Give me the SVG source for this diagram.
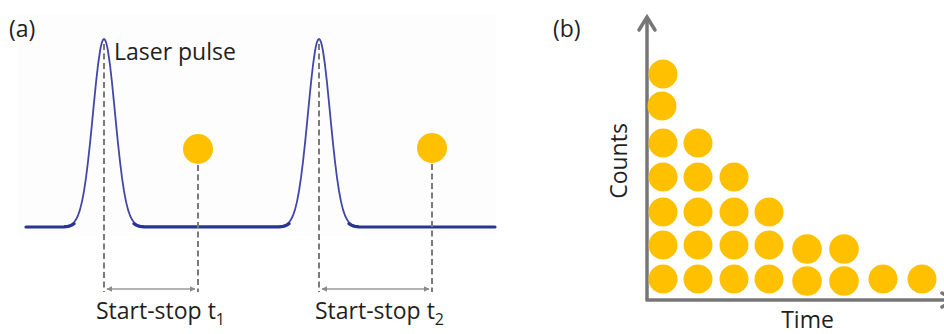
<svg xmlns="http://www.w3.org/2000/svg" xmlns:xlink="http://www.w3.org/1999/xlink" width="944" height="334" viewBox="0 0 944 334">
<style>
  text { font-family: "Open Sans", "Liberation Sans", sans-serif; fill: #1f1f1f; }
  .lbl { font-size: 23px; }
  .sub { font-size: 16px; }
  .dot { fill: #FFC000; }
  .dash { stroke: #7a7a7a; stroke-width: 2; stroke-dasharray: 6 3.5; fill: none; }
  .pulse { fill: none; stroke: #4347a8; stroke-width: 1.8; stroke-linejoin: round; }
  .base { fill: none; stroke: #283593; stroke-width: 3.2; stroke-linecap: round; stroke-linejoin: round; }
  .meas { stroke: #9a9a9a; stroke-width: 1.6; fill: none; marker-start: url(#ah); marker-end: url(#ah); }
  .axis { stroke: #767676; stroke-width: 3.5; fill: none; }
  .chev { stroke: #767676; stroke-width: 3.5; fill: none; stroke-linecap: round; stroke-linejoin: miter; }
</style>
<defs>
  <marker id="ah" viewBox="0 0 10 10" refX="9" refY="5" markerWidth="6" markerHeight="6" orient="auto-start-reverse" markerUnits="userSpaceOnUse">
    <path d="M0,0 L10,5 L0,10 z" fill="#8a8a8a"/>
  </marker>
  <path id="pulse" class="pulse" d="M-40,226.7 L-36,226.1 L-34,225.4 L-32,224.3 L-30,222.4 L-28,219.6 L-26,215.5 L-24,209.6 L-22,201.6 L-20,191 L-18,177.7 L-16,161.7 L-14,143.4 L-12,123.3 L-10,102.6 L-8,82.7 L-6,65 L-4,51 L-3,45.9 L-2,42.1 L-1,39.8 L0,39 L1,39.8 L2,42.1 L3,45.9 L4,51 L6,65 L8,82.7 L10,102.6 L12,123.3 L14,143.4 L16,161.7 L18,177.7 L20,191 L22,201.6 L24,209.6 L26,215.5 L28,219.6 L30,222.4 L32,224.3 L34,225.4 L36,226.1 L40,226.7"/>
</defs>

<g id="panel-a">
  <rect x="18" y="14" width="478" height="222" fill="#fdfdfd"/>
  <g id="signal">
    <use xlink:href="#pulse" x="104"/>
    <use xlink:href="#pulse" x="319"/>
    <path class="base" d="M26,227 L64,226.8 L68,226.4 L70,225.9 L72,225 L74,223.6 M134,223.6 L136,225 L138,225.9 L140,226.4 L144,226.8 L279,226.8 L283,226.4 L285,225.9 L287,225 L289,223.6 M349,223.6 L351,225 L353,225.9 L355,226.4 L359,226.8 L495,227"/>
  </g>
  <g id="guides">
    <line class="dash" x1="104" y1="44" x2="104" y2="292"/>
    <line class="dash" x1="198" y1="165" x2="198" y2="292"/>
    <line class="dash" x1="319" y1="44" x2="319" y2="292"/>
    <line class="dash" x1="432" y1="164" x2="432" y2="292"/>
    <line class="meas" x1="107" y1="289" x2="195" y2="289"/>
    <line class="meas" x1="322" y1="289" x2="429" y2="289"/>
  </g>
  <g id="photon1"><circle class="dot" cx="198" cy="149" r="15"/></g>
  <g id="photon2"><circle class="dot" cx="432" cy="148" r="15"/></g>
  <text class="lbl" x="9" y="37">(a)</text>
  <text class="lbl" x="114" y="60">Laser pulse</text>
  <text class="lbl" x="96" y="319">Start-stop t<tspan class="sub" dy="6">1</tspan></text>
  <text class="lbl" x="315" y="319">Start-stop t<tspan class="sub" dy="6">2</tspan></text>
</g>

<g id="panel-b">
  <text class="lbl" x="553" y="37">(b)</text>
  <g id="axes">
    <line class="axis" x1="647" y1="18" x2="647" y2="300"/>
    <line class="axis" x1="645.5" y1="300" x2="946" y2="300"/>
    <path class="chev" d="M639,30 L647,17 L655,30"/>
    <path class="chev" d="M942,293 L953,300 L942,307"/>
  </g>
  <g id="histogram">
    <circle class="dot" cx="663" cy="74" r="14.5"/>
    <circle class="dot" cx="662" cy="106" r="14.5"/>
    <circle class="dot" cx="663" cy="143" r="14.5"/>
    <circle class="dot" cx="663" cy="177" r="14.5"/>
    <circle class="dot" cx="663" cy="212" r="14.5"/>
    <circle class="dot" cx="663" cy="245" r="14.5"/>
    <circle class="dot" cx="663" cy="279" r="14.5"/>
    <circle class="dot" cx="698" cy="143" r="14.5"/>
    <circle class="dot" cx="698" cy="177" r="14.5"/>
    <circle class="dot" cx="698" cy="212" r="14.5"/>
    <circle class="dot" cx="698" cy="245" r="14.5"/>
    <circle class="dot" cx="698" cy="279" r="14.5"/>
    <circle class="dot" cx="734" cy="177" r="14.5"/>
    <circle class="dot" cx="734" cy="212" r="14.5"/>
    <circle class="dot" cx="734" cy="245" r="14.5"/>
    <circle class="dot" cx="734" cy="279" r="14.5"/>
    <circle class="dot" cx="769" cy="212" r="14.5"/>
    <circle class="dot" cx="769" cy="245" r="14.5"/>
    <circle class="dot" cx="769" cy="279" r="14.5"/>
    <circle class="dot" cx="807" cy="249" r="14.8"/>
    <circle class="dot" cx="807" cy="281" r="14.8"/>
    <circle class="dot" cx="844" cy="249" r="14.8"/>
    <circle class="dot" cx="844" cy="281" r="14.8"/>
    <circle class="dot" cx="883" cy="279" r="14.5"/>
    <circle class="dot" cx="922" cy="279" r="14.5"/>
  </g>
  <text class="lbl" transform="translate(627,161) rotate(-90)" text-anchor="middle">Counts</text>
  <text class="lbl" x="807.5" y="328" text-anchor="middle">Time</text>
</g>
</svg>
